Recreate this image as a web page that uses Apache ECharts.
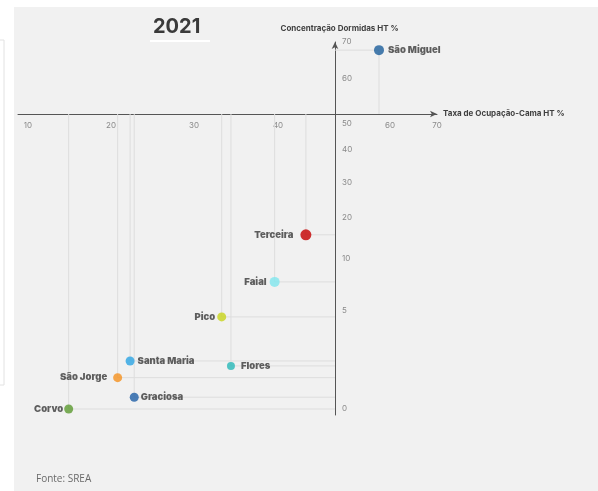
<!DOCTYPE html>
<html><head><meta charset="utf-8">
<script src="https://cdn.jsdelivr.net/npm/echarts@6/dist/echarts.min.js"></script>
<style>html,body{margin:0;padding:0;background:#fff}#c{width:598px;height:491px}</style>
</head><body><div id="c"></div>
<script>
// ---- data ----
const islands = ['São Miguel','Terceira','Faial','Pico','Santa Maria','Flores','São Jorge','Graciosa','Corvo'];
const occupancy = [57.5, 44.1, 39.6, 33.3, 22.3, 34.4, 20.8, 22.8, 14.9];      // Taxa de Ocupação-Cama HT %
const concentration = [67.8, 15.9, 7.8, 4.7, 2.45, 2.2, 1.6, 0.6, 0];           // Concentração Dormidas HT %
const xTickValues = [10, 20, 30, 40, 50, 60, 70];
const yTickValues = [0, 5, 10, 20, 30, 40, 50, 60, 70];

// ---- layout: non-uniform axis breakpoints (axis units, origin at axes crossing) ----
const xTickAt = [-307, -224, -141, -57, 11, 55, 102];
const yTickAt = [-295, -197, -145, -104, -69, -36, -10, 35, 72];

// ---- styles ----
const colors = ['#1b5e9b','#c40000','#7fe6ee','#c8d41c','#2aa4e4','#27b8b8','#f5911e','#1f5fa6','#5b9a2f'];
const sizes = [10, 11, 10, 9, 9, 8, 9, 9, 9];
const labelPos = ['right','left','left','left','right','right','left','right','left'];
const labelDist = [4, 7, 3, 2, 3, 6, 6, 2, 1];

function piecewise(v, vals, at) {
  if (v <= vals[0]) return at[0] + (v - vals[0]) * (at[1] - at[0]) / (vals[1] - vals[0]);
  for (let i = 0; i < vals.length - 1; i++) {
    if (v <= vals[i + 1]) return at[i] + (v - vals[i]) * (at[i + 1] - at[i]) / (vals[i + 1] - vals[i]);
  }
  const n = vals.length - 1;
  return at[n] + (v - vals[n]) * (at[n] - at[n - 1]) / (vals[n] - vals[n - 1]);
}
const sx = v => piecewise(v, xTickValues, xTickAt);
const sy = v => piecewise(v, yTickValues, yTickAt);
function labelFor(pos, at, vals) {
  const i = at.findIndex(a => Math.abs(a - pos) < 0.01);
  return i >= 0 ? String(vals[i]) : '';
}
// the shared "50" label near the crossing is drawn once, by the y axis
const xLabelAt = xTickAt.filter((a, i) => !(xTickValues[i] === 50 && yTickValues.includes(50)));

const FONT = 'Inter, "Noto Sans", sans-serif';
const chart = echarts.init(document.getElementById('c'), null, {renderer: 'canvas'});

const dropSeries = islands.map((name, i) => {
  const x = sx(occupancy[i]), y = sy(concentration[i]);
  return {
    type: 'line', silent: true, symbol: 'none', z: 1,
    lineStyle: {color: '#dddddd', width: 1},
    data: [[0, y], [x, y], [x, 0]],
    animation: false
  };
});

const points = islands.map((name, i) => ({
  name: name,
  value: [sx(occupancy[i]), sy(concentration[i])],
  symbolSize: sizes[i],
  itemStyle: {color: colors[i]},
  label: {show: true, position: labelPos[i], distance: labelDist[i], formatter: name,
          color: '#383838', fontWeight: 900, fontSize: 9.5, fontFamily: FONT}
}));

chart.setOption({
  animation: false,
  backgroundColor: '#ffffff',
  graphic: [
    {type: 'rect', z: -10, shape: {x: 14, y: 7, width: 600, height: 500}, style: {fill: '#f1f1f1'}},
    {type: 'rect', z: -10, shape: {x: -10, y: 40, width: 14, height: 345}, style: {fill: '#ffffff', stroke: '#e2e2e2', lineWidth: 1}},
    {type: 'line', z: -5, shape: {x1: 150, y1: 41, x2: 210, y2: 41}, style: {stroke: '#ffffff', lineWidth: 2}},
    {type: 'text', left: 36, top: 474, style: {text: 'Fonte: SREA', fill: '#6a6a6a', fontSize: 10, fontFamily: '"Open Sans", sans-serif'}}
  ],
  title: {
    text: '2021', left: 148, top: 12,
    textStyle: {fontFamily: FONT, fontWeight: 'bold', fontSize: 20, color: '#3a3a3a'}
  },
  grid: {left: 18, right: 161, top: 42, bottom: 76},
  xAxis: {
    type: 'value', min: -317, max: 102, position: 'bottom', offset: -301,
    splitLine: {show: false},
    axisLine: {onZero: false, lineStyle: {color: '#555555', width: 1}, symbol: ['none', 'arrow'], symbolSize: [5, 7]},
    axisTick: {show: false},
    axisLabel: {customValues: xLabelAt, formatter: v => labelFor(v, xTickAt, xTickValues),
                color: '#8a8a8a', fontSize: 8, margin: 8, fontFamily: FONT},
    name: 'Taxa de Ocupação-Cama HT %', nameLocation: 'end', nameGap: 6,
    nameTextStyle: {color: '#404040', fontWeight: 'bold', fontSize: 8, fontFamily: FONT, align: 'left', verticalAlign: 'middle', padding: [14, 0, 0, 0]}
  },
  yAxis: {
    type: 'value', min: -301, max: 72, position: 'left', offset: -317,
    splitLine: {show: false},
    axisLine: {onZero: false, lineStyle: {color: '#555555', width: 1}, symbol: ['none', 'arrow'], symbolSize: [5, 7]},
    axisTick: {show: false},
    axisLabel: {inside: true, customValues: yTickAt, formatter: v => labelFor(v, yTickAt, yTickValues),
                color: '#8a8a8a', fontSize: 8, margin: 7, fontFamily: FONT},
    name: 'Concentração Dormidas HT %', nameLocation: 'end', nameGap: 9,
    nameTextStyle: {color: '#404040', fontWeight: 'bold', fontSize: 8, fontFamily: FONT, padding: [0, 0, 0, 9]}
  },
  series: dropSeries.concat([{
    type: 'scatter', z: 5, clip: false,
    data: points
  }])
});
</script></body></html>
